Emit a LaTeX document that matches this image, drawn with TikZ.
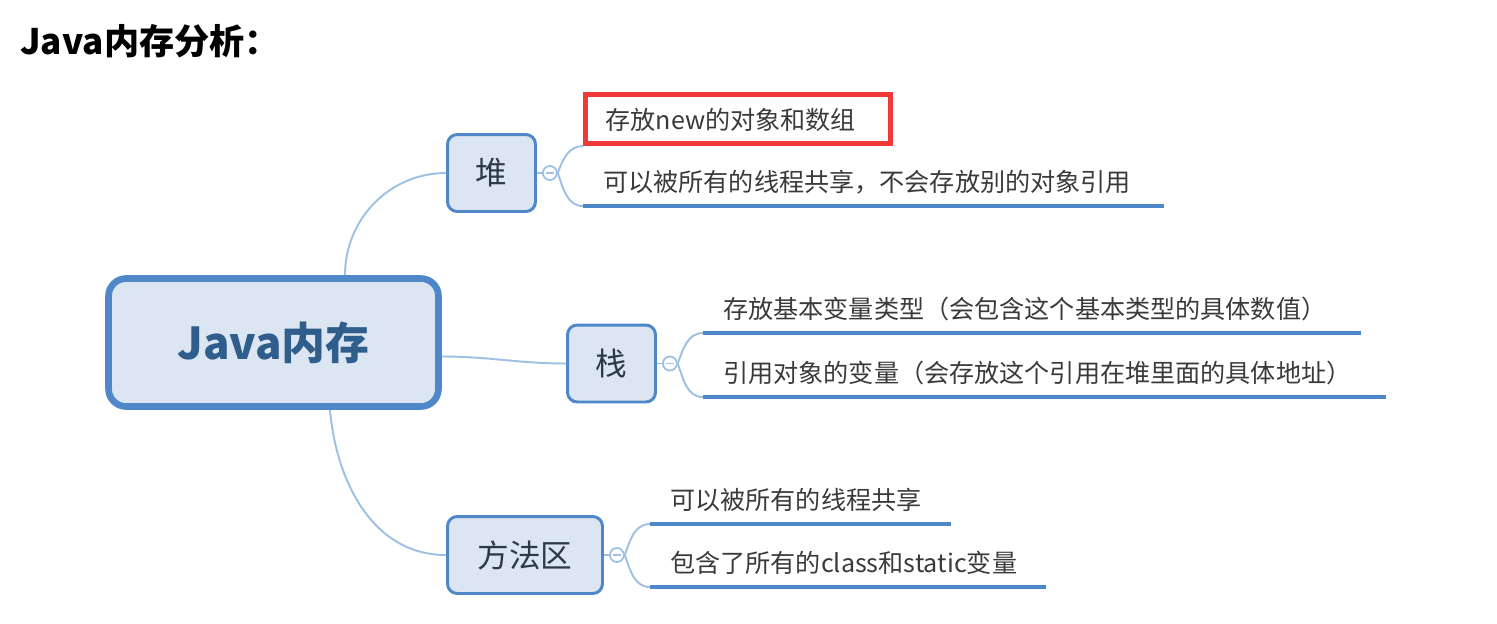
\documentclass[tikz,border=0pt]{standalone}
\usepackage{fontspec}
\setmainfont{Noto Sans CJK SC}
\usetikzlibrary{positioning}
\definecolor{bordblue}{HTML}{4F88C9}
\definecolor{fillblue}{HTML}{DCE6F2}
\definecolor{linkblue}{HTML}{9DC0E4}
\definecolor{rootink}{HTML}{2F5D8C}
\definecolor{topicink}{HTML}{2E3946}
\definecolor{leafink}{HTML}{3A3A3A}
\definecolor{markred}{HTML}{F03A3A}

\begin{document}
\begin{tikzpicture}[
  x=0.02cm, y=0.02cm,
  root/.style={draw=bordblue, fill=fillblue, line width=3.8pt,
               rounded corners=10pt, minimum width=6.6cm, minimum height=2.56cm,
               font=\fontsize{25}{30}\selectfont\bfseries, text=rootink},
  topic/.style={draw=bordblue, fill=fillblue, line width=1.7pt,
                rounded corners=5.5pt, minimum width=1.76cm, minimum height=1.54cm,
                font=\fontsize{18}{22}\selectfont, text=topicink},
  fold/.style={circle, draw=linkblue, fill=white, line width=1pt,
               minimum size=0.28cm, inner sep=0pt,
               path picture={\draw[linkblue, line width=0.8pt]
                 ([xshift=-2.2pt]path picture bounding box.center) --
                 ([xshift=2.2pt]path picture bounding box.center);}},
  leaf/.style={anchor=south west, inner xsep=0.4cm, inner ysep=0.28cm,
               text depth=0pt, align=left,
               font=\fontsize{14.3}{17}\selectfont, text=leafink},
  uline/.style={draw=bordblue, line width=2.3pt},
  link/.style={draw=linkblue, line width=1.1pt},
  redframe/.style={draw=markred, line width=2.8pt},
]
\useasboundingbox (0,0) rectangle (1497,-623);
% title
\node[anchor=west, inner sep=0pt, font=\fontsize{20}{24}\selectfont\bfseries] (title)
  at (20,-41) {Java内存分析：};
% root and topics
\node[root] (java) at (273.5,-342.5) {Java内存};
\node[topic] (dui)    at (491.5,-173)   {堆};
\node[topic] (zhan)   at (611.5,-363.5) {栈};
\node[topic, minimum width=3.1cm] (fangfa) at (525,-555) {方法区};
% fold markers
\node[fold, right=0.1cm of dui]    (duifold)    {};
\node[fold, right=0.1cm of zhan]   (zhanfold)   {};
\node[fold, right=0.1cm of fangfa] (fangfafold) {};
% leaves
\node[leaf, redframe, text width=5.3cm] (dui1) at (583,-146) {存放new的对象和数组};
\node[leaf, text width=10.8cm] (dui2) at (583,-206) {可以被所有的线程共享，不会存放别的对象引用};
\node[leaf, text width=12.34cm] (zhan1) at (703,-333) {存放基本变量类型（会包含这个基本类型的具体数值）};
\node[leaf, text width=12.84cm] (zhan2) at (703,-397) {引用对象的变量（会存放这个引用在堆里面的具体地址）};
\node[leaf, text width=5.2cm] (fangfa1) at (650,-524) {可以被所有的线程共享};
\node[leaf, text width=7.1cm] (fangfa2) at (650,-587) {包含了所有的class和static变量};
% underlines
\draw[uline] (dui2.south west) -- (dui2.south east);
\draw[uline] (zhan1.south west) -- (zhan1.south east);
\draw[uline] (zhan2.south west) -- (zhan2.south east);
\draw[uline] (fangfa1.south west) -- (fangfa1.south east);
\draw[uline] (fangfa2.south west) -- (fangfa2.south east);
% root branches
\draw[link] ([xshift=1.43cm]java.north) to[out=90, in=180] (dui.west);
\draw[link] ([yshift=-0.28cm]java.east) to[out=0, in=180] (zhan.west);
\draw[link] ([xshift=1.13cm]java.south) to[out=-85, in=180] (fangfa.west);
% topic to fold
\draw[link] (dui.east) -- (duifold.west);
\draw[link] (zhan.east) -- (zhanfold.west);
\draw[link] (fangfa.east) -- (fangfafold.west);
% fold to leaves
\draw[link] (duifold.east) to[out=70, in=180] (dui1.south west);
\draw[link] (duifold.east) to[out=-70, in=180] (dui2.south west);
\draw[link] (zhanfold.east) to[out=70, in=180] (zhan1.south west);
\draw[link] (zhanfold.east) to[out=-70, in=180] (zhan2.south west);
\draw[link] (fangfafold.east) to[out=70, in=180] (fangfa1.south west);
\draw[link] (fangfafold.east) to[out=-70, in=180] (fangfa2.south west);
\end{tikzpicture}
\end{document}
